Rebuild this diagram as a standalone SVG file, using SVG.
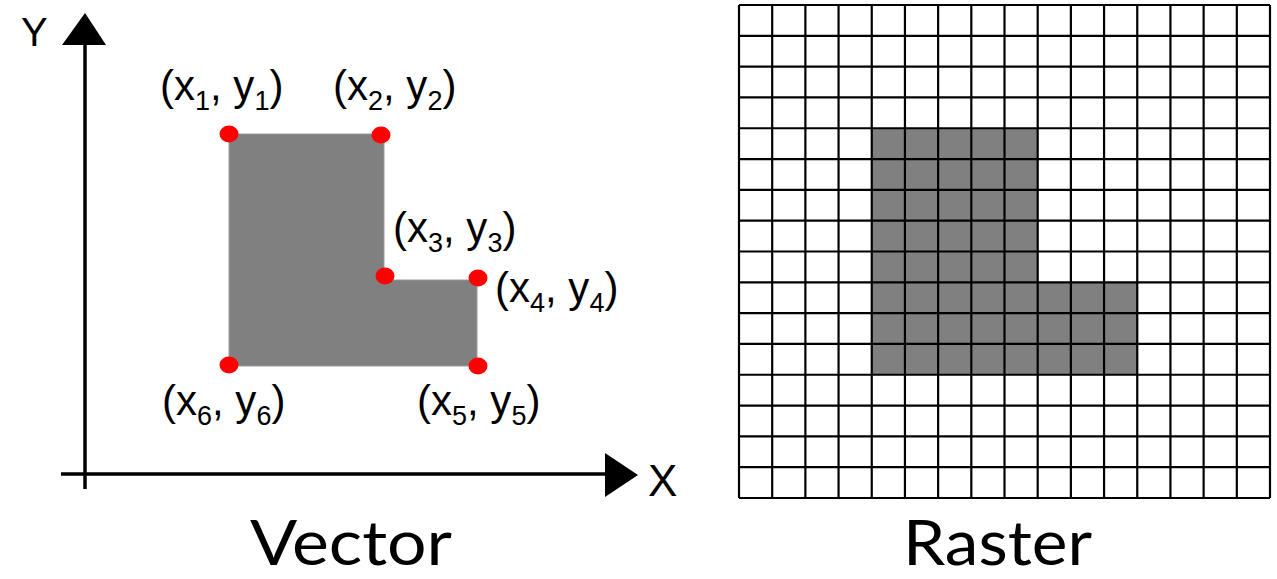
<svg xmlns="http://www.w3.org/2000/svg" width="1277" height="579" viewBox="0 0 1277 579">
<style>
.lbl{font-family:"Liberation Sans",Arial,sans-serif;font-size:42px;fill:#000}
.sub{font-size:27px}
.axl{font-family:"Liberation Sans",Arial,sans-serif;font-size:40px;fill:#000}
.title{font-family:Lato,"Open Sans",sans-serif;font-size:62px;fill:#000}
.dot{fill:#ff0000}
.ax{stroke:#000;stroke-width:3.5;fill:none}
.cell{fill:#808080}
.grid line{stroke:#000;stroke-width:2.2}
</style>
<rect width="1277" height="579" fill="#fff"/>
<g id="axes">
  <line class="ax" x1="85" y1="40" x2="85" y2="489"/>
  <line class="ax" x1="61" y1="474" x2="610" y2="474"/>
  <polygon points="85,13 106,45 62,45" fill="#000"/>
  <polygon points="638,475 605,453 605,497" fill="#000"/>
  <text class="axl" x="21" y="46">Y</text>
  <text class="axl" x="648" y="496" style="font-size:44px">X</text>
</g>
<g id="shape">
  <polygon points="229,134 384,134 384,280 477,280 477,366 229,366" fill="#808080" stroke="#9a9a9a" stroke-width="1"/>
</g>
<g id="vertices">
  <ellipse class="dot" cx="229" cy="134" rx="9.5" ry="8.5"/>
  <ellipse class="dot" cx="381" cy="135" rx="9.5" ry="8.5"/>
  <ellipse class="dot" cx="385" cy="276" rx="9.5" ry="8.5"/>
  <ellipse class="dot" cx="478" cy="278" rx="9.5" ry="8.5"/>
  <ellipse class="dot" cx="229" cy="365" rx="9.5" ry="8.5"/>
  <ellipse class="dot" cx="478" cy="366" rx="9.5" ry="8.5"/>
</g>
<g id="labels">
  <text class="lbl" x="160" y="100">(x<tspan class="sub" dy="10">1</tspan><tspan dy="-10">, y</tspan><tspan class="sub" dy="10">1</tspan><tspan dy="-10">)</tspan></text>
  <text class="lbl" x="333" y="100">(x<tspan class="sub" dy="10">2</tspan><tspan dy="-10">, y</tspan><tspan class="sub" dy="10">2</tspan><tspan dy="-10">)</tspan></text>
  <text class="lbl" x="393" y="242">(x<tspan class="sub" dy="10">3</tspan><tspan dy="-10">, y</tspan><tspan class="sub" dy="10">3</tspan><tspan dy="-10">)</tspan></text>
  <text class="lbl" x="495" y="302">(x<tspan class="sub" dy="10">4</tspan><tspan dy="-10">, y</tspan><tspan class="sub" dy="10">4</tspan><tspan dy="-10">)</tspan></text>
  <text class="lbl" x="417" y="415">(x<tspan class="sub" dy="10">5</tspan><tspan dy="-10">, y</tspan><tspan class="sub" dy="10">5</tspan><tspan dy="-10">)</tspan></text>
  <text class="lbl" x="162" y="415">(x<tspan class="sub" dy="10">6</tspan><tspan dy="-10">, y</tspan><tspan class="sub" dy="10">6</tspan><tspan dy="-10">)</tspan></text>
</g>
<g id="raster">
  <rect class="cell" x="871.8" y="128.2" width="165.9" height="246.5"/>
  <rect class="cell" x="1037.7" y="282.3" width="99.6" height="92.4"/>
  <g class="grid">
    <line x1="739" y1="5" x2="739" y2="498"/>
    <line x1="772.19" y1="5" x2="772.19" y2="498"/>
    <line x1="805.38" y1="5" x2="805.38" y2="498"/>
    <line x1="838.56" y1="5" x2="838.56" y2="498"/>
    <line x1="871.75" y1="5" x2="871.75" y2="498"/>
    <line x1="904.94" y1="5" x2="904.94" y2="498"/>
    <line x1="938.13" y1="5" x2="938.13" y2="498"/>
    <line x1="971.31" y1="5" x2="971.31" y2="498"/>
    <line x1="1004.5" y1="5" x2="1004.5" y2="498"/>
    <line x1="1037.69" y1="5" x2="1037.69" y2="498"/>
    <line x1="1070.88" y1="5" x2="1070.88" y2="498"/>
    <line x1="1104.06" y1="5" x2="1104.06" y2="498"/>
    <line x1="1137.25" y1="5" x2="1137.25" y2="498"/>
    <line x1="1170.44" y1="5" x2="1170.44" y2="498"/>
    <line x1="1203.63" y1="5" x2="1203.63" y2="498"/>
    <line x1="1236.81" y1="5" x2="1236.81" y2="498"/>
    <line x1="1270" y1="5" x2="1270" y2="498"/>
    <line x1="739" y1="5" x2="1270" y2="5"/>
    <line x1="739" y1="35.81" x2="1270" y2="35.81"/>
    <line x1="739" y1="66.63" x2="1270" y2="66.63"/>
    <line x1="739" y1="97.44" x2="1270" y2="97.44"/>
    <line x1="739" y1="128.25" x2="1270" y2="128.25"/>
    <line x1="739" y1="159.06" x2="1270" y2="159.06"/>
    <line x1="739" y1="189.88" x2="1270" y2="189.88"/>
    <line x1="739" y1="220.69" x2="1270" y2="220.69"/>
    <line x1="739" y1="251.5" x2="1270" y2="251.5"/>
    <line x1="739" y1="282.31" x2="1270" y2="282.31"/>
    <line x1="739" y1="313.13" x2="1270" y2="313.13"/>
    <line x1="739" y1="343.94" x2="1270" y2="343.94"/>
    <line x1="739" y1="374.75" x2="1270" y2="374.75"/>
    <line x1="739" y1="405.56" x2="1270" y2="405.56"/>
    <line x1="739" y1="436.38" x2="1270" y2="436.38"/>
    <line x1="739" y1="467.19" x2="1270" y2="467.19"/>
    <line x1="739" y1="498" x2="1270" y2="498"/>
  </g>
</g>
<g id="titles">
  <text class="title" x="250" y="565" textLength="202" lengthAdjust="spacingAndGlyphs">Vector</text>
  <text class="title" x="903" y="565" textLength="189" lengthAdjust="spacingAndGlyphs">Raster</text>
</g>
</svg>
